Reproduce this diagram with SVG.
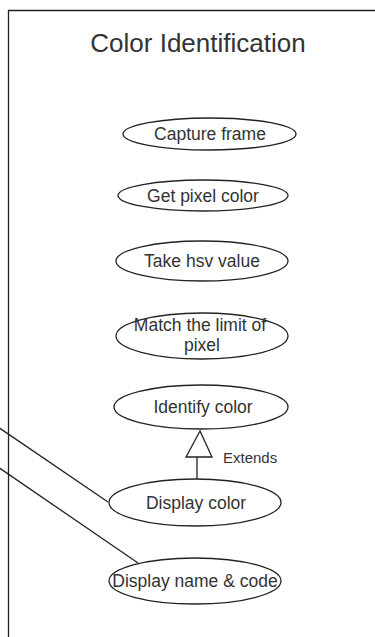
<svg xmlns="http://www.w3.org/2000/svg" width="375" height="637" viewBox="0 0 375 637">
<style>
.uc{fill:#fff;stroke:#222;stroke-width:1.3}
.lbl{font-family:"Liberation Sans",Arial,sans-serif;font-size:17.5px;fill:#333;text-anchor:middle}
.edge{stroke:#222;stroke-width:1.3;fill:none}
</style>
<rect width="375" height="637" fill="#fff"/>
<g id="system">
<path d="M8.5 637 V10.5 H376" class="edge"/>
<text x="198" y="52" font-family="'Liberation Sans',Arial,sans-serif" font-size="26" fill="#333" text-anchor="middle">Color Identification</text>
</g>
<g id="connectors">
<line x1="-2" y1="427" x2="108" y2="502" class="edge"/>
<line x1="-2" y1="467" x2="138" y2="563" class="edge"/>
<line x1="197" y1="457" x2="197" y2="479.5" class="edge"/>
<polygon points="200,431 186,457 212,457" class="uc"/>
<text x="223" y="463" font-family="'Liberation Sans',Arial,sans-serif" font-size="15" fill="#333">Extends</text>
</g>
<g id="capture"><ellipse cx="209.5" cy="134" rx="86.5" ry="16" class="uc"/><text x="210" y="140" class="lbl">Capture frame</text></g>
<g id="getpixel"><ellipse cx="203" cy="195.5" rx="85" ry="15.5" class="uc"/><text x="203" y="201.5" class="lbl">Get pixel color</text></g>
<g id="hsv"><ellipse cx="202" cy="261" rx="86" ry="20" class="uc"/><text x="202" y="267" class="lbl">Take hsv value</text></g>
<g id="match"><ellipse cx="202" cy="336" rx="86" ry="23" class="uc"/><text x="200" y="331" class="lbl">Match the limit of</text><text x="202" y="351" class="lbl">pixel</text></g>
<g id="identify"><ellipse cx="201" cy="407" rx="87" ry="22" class="uc"/><text x="203" y="413" class="lbl">Identify color</text></g>
<g id="display"><ellipse cx="195" cy="502.5" rx="86" ry="23.5" class="uc"/><text x="196" y="508.5" class="lbl">Display color</text></g>
<g id="namecode"><ellipse cx="195" cy="581" rx="86" ry="23" class="uc"/><text x="195" y="587" class="lbl">Display name &amp; code</text></g>
</svg>
